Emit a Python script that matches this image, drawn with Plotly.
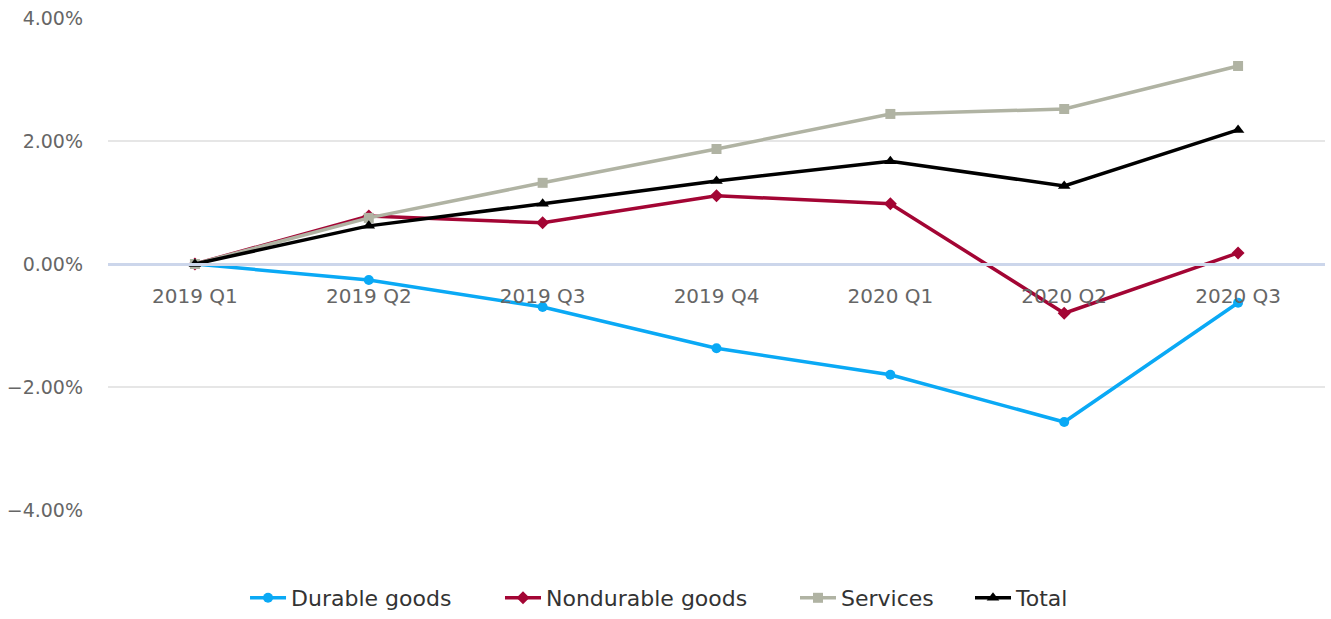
import plotly.graph_objects as go

categories = ["2019 Q1", "2019 Q2", "2019 Q3", "2019 Q4", "2020 Q1", "2020 Q2", "2020 Q3"]
durable = [0.0, -0.26, -0.70, -1.37, -1.80, -2.57, -0.63]
nondurable = [0.0, 0.78, 0.67, 1.11, 0.98, -0.80, 0.18]
services = [0.0, 0.75, 1.32, 1.87, 2.44, 2.52, 3.22]
total = [0.0, 0.62, 0.98, 1.35, 1.67, 1.27, 2.18]
y_ticks = [-4, -2, 0, 2, 4]
y_tick_text = ["−4.00%", "−2.00%", "0.00%", "2.00%", "4.00%"]

series = [
    ("Durable goods", durable, "#0AA9F5", "circle", 10),
    ("Nondurable goods", nondurable, "#A30534", "diamond", 10),
    ("Services", services, "#B0B3A3", "square", 10),
    ("Total", total, "#000000", "triangle-up", 11),
]
legend_ids = ["legend", "legend2", "legend3", "legend4"]
legend_x = [0.1126, 0.3221, 0.5645, 0.7083]

fig = go.Figure()
for (name, vals, color, sym, size), lid in zip(series, legend_ids):
    fig.add_trace(go.Scatter(
        x=list(range(len(categories))), y=vals, name=name, mode="lines+markers",
        line=dict(color=color, width=3.5),
        marker=dict(symbol=sym, size=size, color=color),
        legend=lid,
    ))

legend_common = dict(orientation="h", xanchor="left", yref="container", y=0.0,
                     yanchor="bottom", font=dict(size=22, color="#333333"),
                     itemwidth=36, bgcolor="rgba(0,0,0,0)")
layout_legends = {}
for lid, lx in zip(legend_ids, legend_x):
    layout_legends[lid] = dict(x=lx, **legend_common)

fig.update_layout(
    width=1331, height=619,
    margin=dict(l=108, r=6, t=18, b=109),
    paper_bgcolor="white", plot_bgcolor="white",
    font=dict(family="DejaVu Sans", color="#666666"),
    showlegend=True,
    xaxis=dict(
        range=[-0.5, 6.5], tickmode="array", tickvals=list(range(len(categories))),
        ticktext=categories, anchor="free", position=0.5,
        showline=True, linecolor="#ccd6eb", linewidth=3,
        showgrid=False, zeroline=False, ticks="",
        tickfont=dict(size=20, color="#666666"), ticklabelstandoff=13,
    ),
    yaxis=dict(
        range=[-4, 4], tickmode="array", tickvals=y_ticks, ticktext=y_tick_text,
        showgrid=True, gridcolor="#e6e6e6", gridwidth=1.5, zeroline=False,
        tickfont=dict(size=19, color="#666666"), ticklabelstandoff=24,
    ),
    **layout_legends,
)

fig.write_html("out.html")
